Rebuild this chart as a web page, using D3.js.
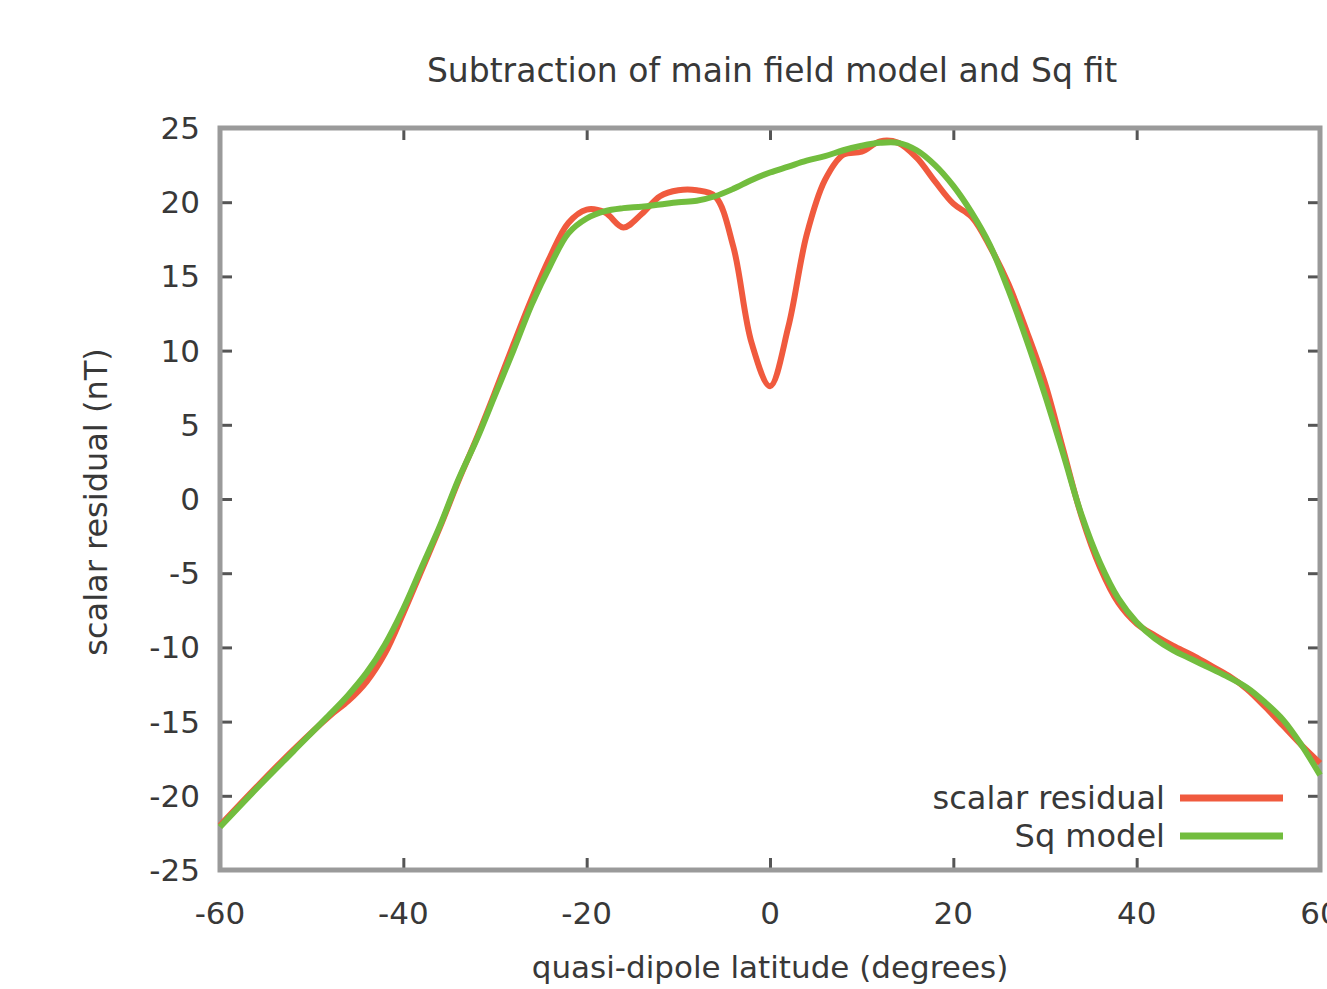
<!DOCTYPE html>
<html lang="en">
<head>
    <meta charset="UTF-8">
    <title>Subtraction of main field model and Sq fit</title>
    <style>
        body{ margin:0; background:#fff; }
        #chart text{ font-family:"DejaVu Sans", "Liberation Sans", sans-serif; fill:#383838; }
    </style>
</head>
<body>
    <div id="chart"></div>

    <script src="https://d3js.org/d3.v7.min.js"></script>
    <script>
        // data
        const latitudes = [-60,-56,-52,-48,-46,-44,-42,-40,-38,-36,-34,-32,-30,-28,-26,-24,-22,-20,-18,-16,-14,-12,-10,-8,-6,-4,-2,0,2,4,6,8,10,12,14,16,18,20,22,24,26,28,30,32,34,36,38,40,42,44,46,48,50,52,54,56,58,60];
        const scalarResidual = [-22.0,-19.4,-16.9,-14.6,-13.6,-12.3,-10.4,-7.7,-4.8,-1.9,1.2,4.1,7.2,10.4,13.5,16.3,18.6,19.5,19.3,18.3,19.2,20.4,20.8,20.8,20.4,17.0,10.5,7.6,11.6,17.8,21.5,23.2,23.4,24.1,24.0,23.0,21.4,19.9,19.0,17.0,14.5,11.3,7.8,3.3,-1.2,-4.6,-7.0,-8.4,-9.2,-9.9,-10.5,-11.2,-11.9,-12.8,-14.0,-15.3,-16.6,-17.8];
        const sqModel = [-22.1,-19.5,-17.0,-14.5,-13.2,-11.7,-9.8,-7.4,-4.6,-1.8,1.3,4.0,7.0,10.0,13.1,15.7,17.9,18.9,19.4,19.6,19.7,19.85,20.0,20.1,20.4,20.9,21.5,22.0,22.4,22.8,23.1,23.5,23.8,24.0,24.0,23.5,22.5,21.1,19.3,17.1,14.1,10.7,7.0,3.0,-1.1,-4.3,-6.7,-8.3,-9.4,-10.2,-10.8,-11.4,-12.0,-12.7,-13.7,-14.9,-16.6,-18.6];
        const xTicks = [-60,-40,-20,0,20,40,60];
        const yTicks = [25,20,15,10,5,0,-5,-10,-15,-20,-25];
        const seriesNames = ["scalar residual", "Sq model"];
        const seriesColors = ["#f05a3e", "#72bd3e"];

        const width = 1327, height = 989;
        const svg = d3.select("#chart").append("svg")
            .attr("width", width)
            .attr("height", height);

        const x = d3.scaleLinear().domain([-60, 60]).range([220, 1320]);
        const y = d3.scaleLinear().domain([-25, 25]).range([870, 128]);

        // axes (ticks inside, mirrored on top and right like gnuplot)
        const tickLen = 12;
        const frame = svg.append("g");
        frame.append("g")
            .attr("transform", `translate(0,${y(-25)})`)
            .call(d3.axisTop(x).tickValues(xTicks).tickSize(tickLen).tickFormat(""));
        frame.append("g")
            .attr("transform", `translate(0,${y(25)})`)
            .call(d3.axisBottom(x).tickValues(xTicks).tickSize(tickLen).tickFormat(""));
        frame.append("g")
            .attr("transform", `translate(${x(-60)},0)`)
            .call(d3.axisRight(y).tickValues(yTicks).tickSize(tickLen).tickFormat(""));
        frame.append("g")
            .attr("transform", `translate(${x(60)},0)`)
            .call(d3.axisLeft(y).tickValues(yTicks).tickSize(tickLen).tickFormat(""));
        frame.selectAll(".domain").remove();
        frame.selectAll(".tick line").attr("stroke", "#555").attr("stroke-width", 3);

        frame.append("rect")
            .attr("x", x(-60)).attr("y", y(25))
            .attr("width", x(60) - x(-60)).attr("height", y(-25) - y(25))
            .attr("fill", "none")
            .attr("stroke", "#9a9a9a")
            .attr("stroke-width", 5);

        // tick labels
        svg.append("g").selectAll("text")
            .data(xTicks).join("text")
            .attr("x", d => x(d))
            .attr("y", 924)
            .attr("text-anchor", "middle")
            .attr("font-size", 31)
            .text(d => d);
        svg.append("g").selectAll("text")
            .data(yTicks).join("text")
            .attr("x", 200)
            .attr("y", d => y(d) + 11)
            .attr("text-anchor", "end")
            .attr("font-size", 31)
            .text(d => d);

        // lines
        const series = [scalarResidual, sqModel];
        const line = d3.line()
            .x((d, i) => x(latitudes[i]))
            .y(d => y(d))
            .curve(d3.curveCatmullRom.alpha(0.5));
        svg.append("g").selectAll("path")
            .data(series).join("path")
            .attr("d", line)
            .attr("fill", "none")
            .attr("stroke", (d, i) => seriesColors[i])
            .attr("stroke-width", 6)
            .attr("stroke-linejoin", "round");

        // legend
        const legend = svg.append("g").selectAll("g")
            .data(seriesNames).join("g")
            .attr("transform", (d, i) => `translate(0,${798 + i * 38})`);
        legend.append("text")
            .attr("x", 1165).attr("y", 11)
            .attr("text-anchor", "end")
            .attr("font-size", 32)
            .text(d => d);
        legend.append("line")
            .attr("x1", 1180).attr("x2", 1283)
            .attr("stroke", (d, i) => seriesColors[i])
            .attr("stroke-width", 7);

        // titles
        svg.append("text")
            .attr("x", 772).attr("y", 82)
            .attr("text-anchor", "middle")
            .attr("font-size", 33)
            .text("Subtraction of main field model and Sq fit");
        svg.append("text")
            .attr("x", 770).attr("y", 978)
            .attr("text-anchor", "middle")
            .attr("font-size", 31)
            .text("quasi-dipole latitude (degrees)");
        svg.append("text")
            .attr("transform", "translate(107,502) rotate(-90)")
            .attr("text-anchor", "middle")
            .attr("font-size", 32)
            .text("scalar residual (nT)");
    </script>
</body>
</html>
